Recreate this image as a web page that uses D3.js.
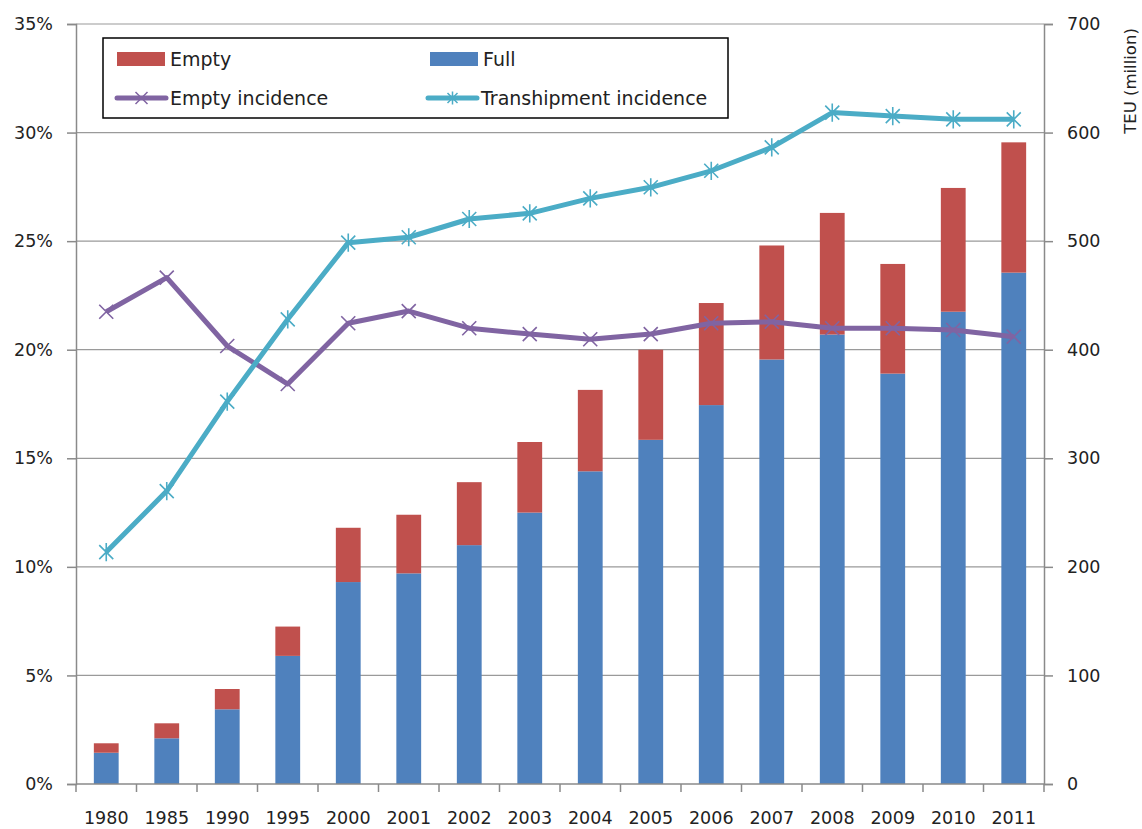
<!DOCTYPE html>
<html>
<head>
<meta charset="utf-8">
<script src="https://cdn.jsdelivr.net/npm/d3@7"></script>
<style>
  body { margin: 0; background: #fff; }
  svg text { font-family: "DejaVu Sans", Verdana, sans-serif; fill: #222; }
</style>
</head>
<body>
<script>
const width = 1142, height = 829;

// data
const years = ["1980","1985","1990","1995","2000","2001","2002","2003","2004","2005","2006","2007","2008","2009","2010","2011"];
const full  = [28.8, 42.1, 68.8, 118, 186, 194, 220, 250, 288, 317, 349, 391, 414, 378, 435, 471];
const total = [37.5, 55.9, 87.5, 145, 236, 248, 278, 315, 363, 400, 443, 496, 526, 479, 549, 591];
const emptyIncidence = [21.75, 23.32, 20.17, 18.42, 21.22, 21.78, 20.99, 20.72, 20.48, 20.72, 21.22, 21.29, 20.99, 20.99, 20.91, 20.6];
const transIncidence = [10.68, 13.49, 17.61, 21.4, 24.93, 25.18, 26.02, 26.28, 26.97, 27.48, 28.24, 29.32, 30.92, 30.76, 30.61, 30.61];
const pctTicks = [0, 5, 10, 15, 20, 25, 30, 35];
const teuTicks = [0, 100, 200, 300, 400, 500, 600, 700];

const colEmpty = "#C0504D", colFull = "#4F81BD", colPurple = "#8064A2", colCyan = "#4BACC6";
const fontSize = 17.5;

const plot = {left: 76, right: 1044, top: 24, bottom: 784};

const x = d3.scaleBand().domain(years).range([plot.left, plot.right]).paddingInner(0.59).paddingOuter(0.295);
const xb = d3.scaleBand().domain(years).range([plot.left, plot.right]); // for tick boundaries
const yL = d3.scaleLinear().domain([0, 35]).range([plot.bottom, plot.top]);
const yR = d3.scaleLinear().domain([0, 700]).range([plot.bottom, plot.top]);

const svg = d3.select("body").append("svg")
    .attr("width", width).attr("height", height);

// gridlines
svg.append("g")
  .selectAll("line")
  .data(pctTicks.filter(t => t > 0))
  .join("line")
    .attr("x1", plot.left).attr("x2", plot.right)
    .attr("y1", d => yL(d)).attr("y2", d => yL(d))
    .attr("stroke", "#9a9a9a").attr("stroke-width", 1.2);

// stacked bars
const bars = svg.append("g");
bars.selectAll("rect.full")
  .data(years)
  .join("rect")
    .attr("class", "full")
    .attr("x", d => x(d)).attr("width", x.bandwidth())
    .attr("y", (d, i) => yR(full[i]))
    .attr("height", (d, i) => yR(0) - yR(full[i]))
    .attr("fill", colFull);
bars.selectAll("rect.empty")
  .data(years)
  .join("rect")
    .attr("class", "empty")
    .attr("x", d => x(d)).attr("width", x.bandwidth())
    .attr("y", (d, i) => yR(total[i]))
    .attr("height", (d, i) => yR(full[i]) - yR(total[i]))
    .attr("fill", colEmpty);

// axes
const axisCol = "#8a8a8a";
const gL = svg.append("g").attr("transform", `translate(${plot.left},0)`)
  .call(d3.axisLeft(yL).tickValues(pctTicks).tickFormat(d => d + "%").tickSize(9).tickPadding(14));
const gR = svg.append("g").attr("transform", `translate(${plot.right},0)`)
  .call(d3.axisRight(yR).tickValues(teuTicks).tickSize(9).tickPadding(14));
const gB = svg.append("g").attr("transform", `translate(0,${plot.bottom})`)
  .call(d3.axisBottom(x).tickSize(0).tickPadding(28));

[gL, gR, gB].forEach(g => {
  g.select(".domain").attr("stroke", axisCol).attr("stroke-width", 1.5);
  g.selectAll(".tick line").attr("stroke", axisCol).attr("stroke-width", 1.5);
  g.selectAll(".tick text").attr("font-size", fontSize).attr("fill", "#222")
    .style("font-family", "'DejaVu Sans', Verdana, sans-serif");
});
gB.select(".domain").attr("d", `M${plot.left},0H${plot.right}`);

// x tick marks on the category boundaries
gB.append("g").selectAll("line")
  .data(years.concat(["end"]))
  .join("line")
    .attr("x1", (d, i) => plot.left + i * xb.bandwidth())
    .attr("x2", (d, i) => plot.left + i * xb.bandwidth())
    .attr("y1", 0).attr("y2", 8)
    .attr("stroke", axisCol).attr("stroke-width", 1.5);

// right axis title
svg.append("text")
  .attr("transform", "translate(1130,81) rotate(-90)")
  .attr("text-anchor", "middle")
  .attr("dy", "0.35em")
  .attr("font-size", 16.5)
  .text("TEU (million)");

// marker shapes
function crossPath(s) { return `M${-s},${-s}L${s},${s}M${-s},${s}L${s},${-s}`; }
function starPath(s) { return crossPath(s) + `M0,${-s * 1.3}L0,${s * 1.3}`; }

const cx = d => x(d) + x.bandwidth() / 2;

function drawLine(values, color, marker) {
  const line = d3.line().x((d, i) => cx(years[i])).y(d => yL(d));
  svg.append("path")
    .datum(values)
    .attr("d", line)
    .attr("fill", "none")
    .attr("stroke", color)
    .attr("stroke-width", 5)
    .attr("stroke-linejoin", "round");
  svg.append("g").selectAll("path")
    .data(values)
    .join("path")
      .attr("transform", (d, i) => `translate(${cx(years[i])},${yL(d)})`)
      .attr("d", marker)
      .attr("stroke", color)
      .attr("stroke-width", 1.6)
      .attr("fill", "none");
}
drawLine(emptyIncidence, colPurple, crossPath(7));
drawLine(transIncidence, colCyan, starPath(7));

// legend
const lg = svg.append("g");
lg.append("rect")
  .attr("x", 103).attr("y", 38).attr("width", 625).attr("height", 80)
  .attr("fill", "#fff").attr("stroke", "#000").attr("stroke-width", 1.5);

const legendItems = [
  {label: "Empty", type: "bar", color: colEmpty, x: 117, y: 59},
  {label: "Full", type: "bar", color: colFull, x: 430, y: 59},
  {label: "Empty incidence", type: "line", color: colPurple, marker: crossPath(6), x: 117, y: 98},
  {label: "Transhipment incidence", type: "line", color: colCyan, marker: starPath(5), x: 428, y: 98}
];
legendItems.forEach(it => {
  if (it.type === "bar") {
    lg.append("rect").attr("x", it.x).attr("y", it.y - 7).attr("width", 48).attr("height", 14).attr("fill", it.color);
  } else {
    lg.append("line").attr("x1", it.x).attr("x2", it.x + 49).attr("y1", it.y).attr("y2", it.y)
      .attr("stroke", it.color).attr("stroke-width", 5).attr("stroke-linecap", "round");
    lg.append("path").attr("transform", `translate(${it.x + 24.5},${it.y})`).attr("d", it.marker)
      .attr("stroke", it.color).attr("stroke-width", 1.5).attr("fill", "none");
  }
  lg.append("text")
    .attr("x", it.x + 53).attr("y", it.y)
    .attr("dy", "0.35em")
    .attr("font-size", 19)
    .text(it.label);
});
</script>
</body>
</html>
